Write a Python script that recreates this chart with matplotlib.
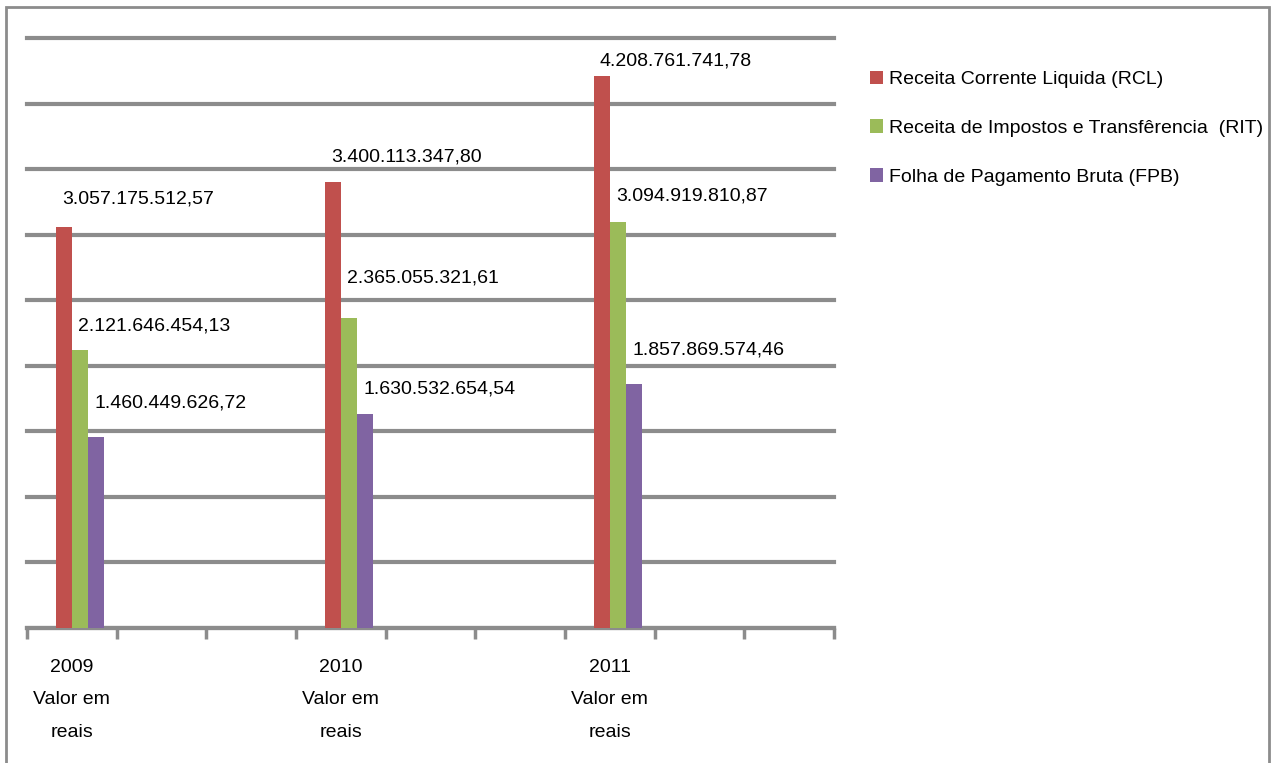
import matplotlib.pyplot as plt
import matplotlib.patches as mpatches
import numpy as np

plt.rcParams['font.family'] = ['Liberation Sans', 'DejaVu Sans']

anos = ['2009\nValor em\nreais', '2010\nValor em\nreais', '2011\nValor em\nreais']
series = ['Receita Corrente Liquida (RCL)',
          'Receita de Impostos e Transfêrencia  (RIT)',
          'Folha de Pagamento Bruta (FPB)']
rcl = [3057175512.57, 3400113347.80, 4208761741.78]
rit = [2121646454.13, 2365055321.61, 3094919810.87]
fpb = [1460449626.72, 1630532654.54, 1857869574.46]
cores = ['#C0504D', '#9BBB59', '#8064A2']

# the chart has 9 category slots, data sits in slots 0, 3 and 6
posicoes = np.array([0, 3, 6])
n_slots = 9
largura = 0.18
deslocamentos = [-0.09, 0.09, 0.27]
# nudge of each value label above its bar (points)
ajuste_rotulo = [[20, 17, 24], [18, 29, 18], [11, 19, 25]]


def formata(v):
    s = f'{v:,.2f}'
    return s.replace(',', 'X').replace('.', ',').replace('X', '.')


fig = plt.figure(figsize=(12.77, 7.63), dpi=100)
ax = fig.add_axes([27 / 1277, 1 - 628 / 763, (834 - 27) / 1277, (628 - 38) / 763])

for i, (valores, cor) in enumerate(zip([rcl, rit, fpb], cores)):
    x = posicoes + deslocamentos[i]
    ax.bar(x, valores, width=largura, color=cor, label=series[i], zorder=3)
    for j, (xx, v) in enumerate(zip(x, valores)):
        ax.annotate(formata(v), (xx - 0.02, v), xytext=(0, ajuste_rotulo[j][i]),
                    textcoords='offset points', ha='left', va='center',
                    fontsize=14, color='black')

ax.set_xlim(-0.5, n_slots - 0.5)
ax.set_ylim(0, 4.5e9)
ax.set_yticks(np.arange(0, 4.5e9 + 1, 5e8))
ax.tick_params(axis='y', length=0, labelleft=False)
ax.yaxis.grid(True, color='#8c8c8c', linewidth=3)
for linha in ax.get_ygridlines():
    linha.set_clip_on(False)
ax.set_axisbelow(True)

ax.set_xticks(posicoes)
ax.set_xticklabels(anos, fontsize=14, linespacing=2.2)
ax.tick_params(axis='x', which='major', length=0, pad=22)
ax.set_xticks(np.arange(-0.5, n_slots, 1), minor=True)
ax.tick_params(axis='x', which='minor', length=8, width=2.5, color='#8c8c8c', direction='out')

for lado in ['left', 'top', 'right']:
    ax.spines[lado].set_visible(False)
ax.spines['bottom'].set_color('#8c8c8c')
ax.spines['bottom'].set_linewidth(3)

ax.legend(loc='upper left', bbox_to_anchor=(862 / 1277, 1 - 63 / 763),
          bbox_transform=fig.transFigure, frameon=False, fontsize=14,
          handlelength=0.7, handleheight=0.7, handletextpad=0.3, labelspacing=1.6,
          borderaxespad=0)

borda = mpatches.Rectangle((6 / 1277, -0.05), (1269 - 6) / 1277, 1.05 - 7 / 763,
                           transform=fig.transFigure, fill=False,
                           edgecolor='#8c8c8c', linewidth=2, clip_on=False)
fig.patches.append(borda)

plt.savefig('out.png', dpi=100)
